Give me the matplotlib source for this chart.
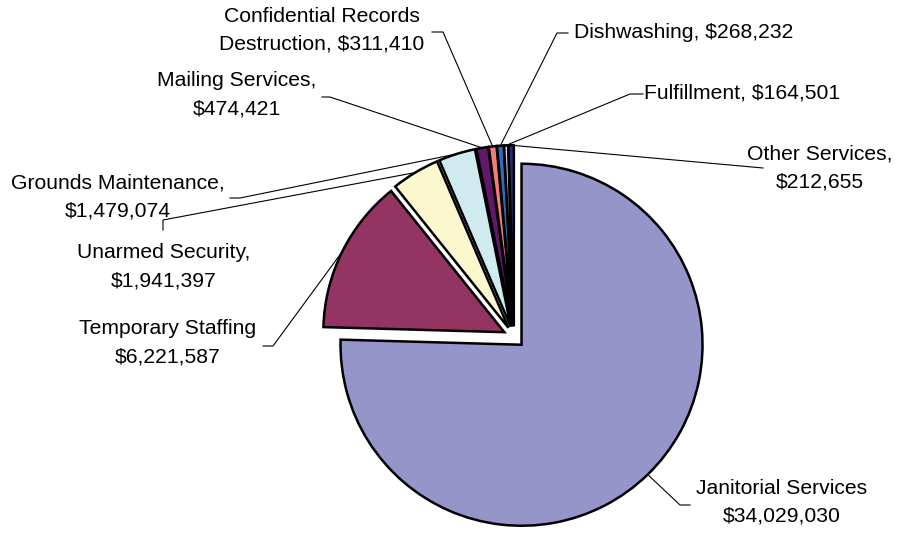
import numpy as np
import matplotlib.pyplot as plt

plt.rcParams['font.family'] = ['Liberation Sans', 'DejaVu Sans']

# contract totals by service
services = ["Janitorial Services", "Temporary Staffing", "Unarmed Security",
            "Grounds Maintenance", "Mailing Services", "Confidential Records\nDestruction",
            "Dishwashing", "Fulfillment", "Other Services"]
amounts = [34029030, 6221587, 1941397, 1479074, 474421, 311410, 268232, 164501, 212655]
separators = ["\n", "\n", ",\n", ",\n", ",\n", ", ", ", ", ", ", ",\n"]
colors = ["#9595c9", "#943462", "#fbf8d0", "#d0ebf0", "#62186a",
          "#f47c7c", "#2f6bbf", "#c4cde6", "#2b2b7e"]

W, H = 898, 536

# label centres and leader elbows, in picture pixels (y from the top)
label_xy = [(782, 502), (168, 343), (164, 267), (118, 197), (237, 95),
            (322, 30), (684, 33), (742, 93), (820, 168)]
leader_pts = [[(680, 505), (690, 505)],
              [(273, 346), (263, 346)],
              [(163, 220), (163, 230)],
              [(240, 198), (230, 198)],
              [(330, 97), (322, 97)],
              [(443, 32), (432, 32)],
              [(557, 33), (568, 33)],
              [(630, 94), (643, 94)],
              [(763, 168)]]

fig = plt.figure(figsize=(W / 100, H / 100), dpi=100)
ax = fig.add_axes([0, 0, 1, 1])

wedges, _ = ax.pie(amounts, colors=colors, startangle=90, counterclock=False,
                   radius=181, center=(514, H - 337), explode=[10.8] * len(amounts),
                   wedgeprops=dict(edgecolor="black", linewidth=1.8))

ax.set_xlim(0, W)
ax.set_ylim(0, H)
ax.set_aspect("equal")
ax.axis("off")

for w, name, sep, amt, (lx, ly), pts in zip(wedges, services, separators, amounts,
                                             label_xy, leader_pts):
    # leader starts at the middle of the slice's arc
    thm = np.deg2rad((w.theta1 + w.theta2) / 2)
    cx, cy = w.center
    xs = [cx + w.r * np.cos(thm)] + [p[0] for p in pts]
    ys = [cy + w.r * np.sin(thm)] + [H - p[1] for p in pts]
    ax.plot(xs, ys, color="black", lw=0.8, zorder=1)

    ax.text(lx, H - ly, f"{name}{sep}${amt:,}", ha="center", va="center",
            fontsize=15.2, linespacing=1.6, color="black")

fig.savefig("out.png", dpi=100)
